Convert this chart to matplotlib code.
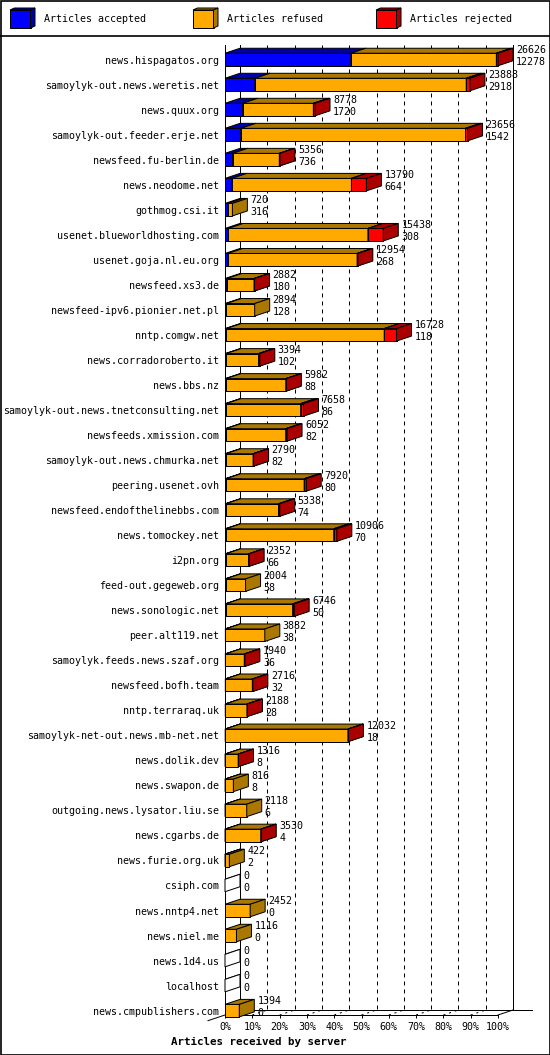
import matplotlib
matplotlib.use("Agg")
import matplotlib.pyplot as plt
from matplotlib.patches import Polygon, Rectangle
from matplotlib.lines import Line2D

servers = [
    "news.hispagatos.org", "samoylyk-out.news.weretis.net", "news.quux.org",
    "samoylyk-out.feeder.erje.net", "newsfeed.fu-berlin.de", "news.neodome.net",
    "gothmog.csi.it", "usenet.blueworldhosting.com", "usenet.goja.nl.eu.org",
    "newsfeed.xs3.de", "newsfeed-ipv6.pionier.net.pl", "nntp.comgw.net",
    "news.corradoroberto.it", "news.bbs.nz", "samoylyk-out.news.tnetconsulting.net",
    "newsfeeds.xmission.com", "samoylyk-out.news.chmurka.net", "peering.usenet.ovh",
    "newsfeed.endofthelinebbs.com", "news.tomockey.net", "i2pn.org",
    "feed-out.gegeweb.org", "news.sonologic.net", "peer.alt119.net",
    "samoylyk.feeds.news.szaf.org", "newsfeed.bofh.team", "nntp.terraraq.uk",
    "samoylyk-net-out.news.mb-net.net", "news.dolik.dev", "news.swapon.de",
    "outgoing.news.lysator.liu.se", "news.cgarbs.de", "news.furie.org.uk",
    "csiph.com", "news.nntp4.net", "news.niel.me", "news.1d4.us", "localhost",
    "news.cmpublishers.com",
]
total = [26626, 23888, 8778, 23656, 5356, 13790, 720, 15438, 12954, 2882,
         2894, 16728, 3394, 5982, 7658, 6052, 2790, 7920, 5338, 10906,
         2352, 2004, 6746, 3882, 1940, 2716, 2188, 12032, 1316, 816,
         2118, 3530, 422, 0, 2452, 1116, 0, 0, 1394]
accepted = [12278, 2918, 1720, 1542, 736, 664, 316, 308, 268, 180,
            128, 118, 102, 88, 86, 82, 82, 80, 74, 70,
            66, 58, 50, 38, 36, 32, 28, 18, 8, 8,
            6, 4, 2, 0, 0, 0, 0, 0, 0]
# estimated from the red slivers
rejected = [160, 360, 160, 200, 60, 1460, 0, 1500, 70, 50,
            0, 1200, 120, 50, 280, 130, 50, 200, 120, 300,
            50, 0, 150, 0, 60, 50, 50, 40, 30, 0,
            0, 40, 0, 0, 0, 0, 0, 0, 0]
refused = [t - a - r for t, a, r in zip(total, accepted, rejected)]

series_names = ["Articles accepted", "Articles refused", "Articles rejected"]
front_colors = ["#0000ff", "#ffaa00", "#ff0000"]
dark_colors = ["#0000aa", "#aa7700", "#aa0000"]

W, H = 550, 1055
ROW_PX = 25.03
FRONT_PX = 273.0
px_x = 100.0 / FRONT_PX
px_y = 1.0 / ROW_PX
dx = 15 * px_x
dy = 5 * px_y
bar_h = 12.5 * px_y
LW = 0.72
FONT = "DejaVu Sans Mono"
plt.rcParams["font.family"] = [FONT]
plt.rcParams["font.size"] = 7.2

fig = plt.figure(figsize=(W / 100, H / 100), dpi=100)
fig.patch.set_facecolor("white")

top_px, floor_px, row0_px = 45, 1015, 59.5
ax = fig.add_axes([225 / W, 1 - floor_px / H, FRONT_PX / W, (floor_px - top_px) / H])
ax.set_xlim(0, 100)
y_top = -(row0_px - top_px) * px_y
y_bot = (floor_px - row0_px) * px_y
ax.set_ylim(y_bot, y_top)
ax.patch.set_visible(False)
for s in ax.spines.values():
    s.set_visible(False)

vmax = max(total)

# back wall grid and frame lines
for k in range(1, 10):
    ax.plot([10 * k + dx] * 2, [y_top, y_bot - dy], color="black", lw=LW,
            dashes=(4 / 0.72 * 0.72, 4), zorder=1, clip_on=False)
    ax.plot([10 * k, 10 * k + dx], [y_bot, y_bot - dy], color="black", lw=LW,
            dashes=(2, 4), zorder=1, clip_on=False)
ax.plot([dx, dx], [y_top, y_bot - dy], color="black", lw=LW, zorder=1, clip_on=False)
ax.plot([100 + dx, 100 + dx], [y_top, y_bot - dy], color="black", lw=LW, zorder=1, clip_on=False)
ax.plot([0, 0], [y_top, y_bot], color="black", lw=LW, zorder=4, clip_on=False)
ax.plot([0, 100], [y_bot, y_bot], color="black", lw=LW, zorder=4, clip_on=False)
ax.plot([100, 100 + dx], [y_bot, y_bot - dy], color="black", lw=LW, zorder=4, clip_on=False)
ax.plot([dx, 100 + dx + 19 * px_x], [y_bot - dy, y_bot - dy], color="black", lw=LW,
        zorder=4, clip_on=False)
ax.plot([-17 * px_x, dx], [y_bot + 17 / 3 * px_y, y_bot - dy], color="black", lw=LW,
        zorder=4, clip_on=False)


def box(x0, x1, yc, face, dark, z):
    yt = yc - bar_h / 2
    yb = yc + bar_h / 2
    ax.add_patch(Rectangle((x0, yt), x1 - x0, bar_h, facecolor=face,
                           edgecolor="black", lw=LW, zorder=z, clip_on=False))
    ax.add_patch(Polygon([(x0, yt), (x1, yt), (x1 + dx, yt - dy), (x0 + dx, yt - dy)],
                         facecolor=dark, edgecolor="black", lw=LW, zorder=z, clip_on=False))
    ax.add_patch(Polygon([(x1, yb), (x1, yt), (x1 + dx, yt - dy), (x1 + dx, yb - dy)],
                         facecolor=dark, edgecolor="black", lw=LW, zorder=z, clip_on=False))


for i in range(len(servers)):
    parts = [accepted[i], refused[i], rejected[i]]
    x = 0.0
    z = 5
    if total[i] == 0:
        box(0, 0, i, "white", "white", z)
    for p, fc, dc in zip(parts, front_colors, dark_colors):
        if p <= 0:
            continue
        w = p / vmax * 100
        box(x, x + w, i, fc, dc, z)
        x += w
        z += 0.01
    xe = total[i] / vmax * 100 + dx + 3 * px_x
    ax.text(xe, i - 9.5 * px_y, str(total[i]), ha="left", va="center", zorder=6)
    ax.text(xe, i + 2.5 * px_y, str(accepted[i]), ha="left", va="center", zorder=6)

ax.set_yticks(range(len(servers)))
ax.set_yticklabels(servers)
ax.tick_params(axis="y", length=0, pad=4.3)
ax.set_xticks(range(0, 101, 10))
ax.set_xticklabels(["%d%%" % v for v in range(0, 101, 10)])
ax.tick_params(axis="x", length=2.2, width=LW, pad=2.5, direction="out")

fig.text(259 / W, 1 - 1042 / H, "Articles received by server", ha="center", va="center",
         fontweight="bold", fontsize=7.8)

# legend strip
lax = fig.add_axes([0, 1 - 35 / H, 1, 35 / H])
lax.set_xlim(0, W)
lax.set_ylim(35, 0)
lax.axis("off")
for x0, xt, name, fc, dc in zip([10, 193, 376], [44, 227, 410], series_names,
                                front_colors, dark_colors):
    lax.add_patch(Rectangle((x0, 10), 20.5, 18, facecolor=fc, edgecolor="black", lw=LW))
    lax.add_patch(Polygon([(x0, 10), (x0 + 20.5, 10), (x0 + 25, 8), (x0 + 4.5, 8)],
                          facecolor=dc, edgecolor="black", lw=LW))
    lax.add_patch(Polygon([(x0 + 20.5, 28), (x0 + 20.5, 10), (x0 + 25, 8), (x0 + 25, 26)],
                          facecolor=dc, edgecolor="black", lw=LW))
    lax.text(xt, 19.5, name, ha="left", va="center")

fig.add_artist(Line2D([0, 1], [1 - 35.5 / H] * 2, color="black", lw=1.2))
fig.add_artist(Rectangle((0.5 / W, 0.5 / H), 1 - 1 / W, 1 - 1 / H, fill=False,
                         edgecolor="black", lw=1.2, transform=fig.transFigure))

fig.savefig("out.png", dpi=100)
